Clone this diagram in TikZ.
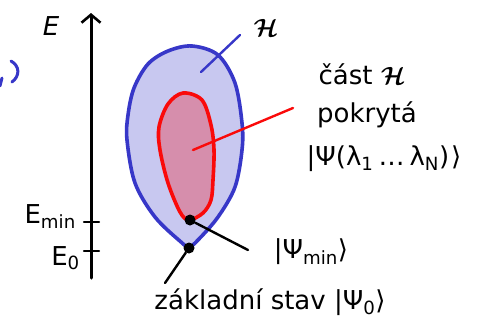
\documentclass[tikz,border=0pt]{standalone}
\usepackage{fontspec}
\setmainfont{DejaVu Sans}
\usetikzlibrary{arrows.meta}
\definecolor{hblue}{RGB}{55,55,200}
\definecolor{hbluefill}{RGB}{200,200,240}
\definecolor{hred}{RGB}{250,10,10}
\definecolor{hredfill}{RGB}{214,142,172}
\newcommand{\hilb}{{\boldmath$\mathcal{H}$}}
\tikzset{
  lbl/.style={font=\fontsize{26}{30}\selectfont, inner sep=1pt},
  pen/.style={line width=3pt, line cap=round, line join=round},
  thinpen/.style={line width=2.4pt, line cap=round, line join=round},
  dot/.style={circle, fill=black, inner sep=0pt, minimum size=11pt},
}
\begin{document}
\begin{tikzpicture}[x=1pt,y=-1pt]
\useasboundingbox (0,0) rectangle (486,327);
% fragment at left edge
\draw[pen, hblue] (11,61) .. controls (20,66) and (20,76) .. (12,82);
\draw[pen, hblue] (2,78) -- (0,86);
% axis
\coordinate (axb) at (91,278);
\coordinate (axt) at (91,13);
\draw[pen, -{Straight Barb[length=8pt,width=19pt,line width=2.6pt]}] (axb) -- (axt);
\node[lbl, anchor=base] (E) at (51,35) {\textit{E}};
\coordinate (t1) at (84,222); \coordinate (t1b) at (99,222);
\coordinate (t0) at (84,251); \coordinate (t0b) at (99,251);
\draw[thinpen] (t1) -- (t1b);
\draw[thinpen] (t0) -- (t0b);
\node[lbl, anchor=base east] (Emin) at (77,223) {E\textsubscript{min}};
\node[lbl, anchor=base east] (E0) at (81,265) {E\textsubscript{0}};
% outer blob
\draw[pen, line width=3.6pt, hblue, fill=hbluefill] plot[smooth cycle, tension=0.55] coordinates {
  (192,46) (218,55) (235,83) (242,123) (242,150) (235,187) (218,217) (198,240) (189,247)
  (181,242) (155,217) (135,183) (127,140) (128,115) (134,88) (148,64) (168,51)};
% inner blob
\draw[pen, line width=3.6pt, hred, fill=hredfill] plot[smooth cycle, tension=0.55] coordinates {
  (183,93) (202,100) (211,125) (214,150) (213,180) (211,200) (203,213) (189,220)
  (180,212) (168,183) (160,150) (159,127) (168,104)};
% H label
\coordinate (hb) at (201,72);
\node[lbl] (H) at (266,28) {\hilb};
\draw[thinpen, hblue] (hb) -- (240,35);
% red label
\coordinate (rb) at (193,150);
\coordinate (rt) at (293,108);
\draw[thinpen, hred] (rb) -- (rt);
\node[lbl] (cast) at (362,74) {část \hilb};
\node[lbl] (pokr) at (367,115) {pokrytá};
\node[lbl] (psil) at (384,159) {|Ψ(λ\textsubscript{1}\hspace{5pt}…\hspace{5pt}λ\textsubscript{N})\hspace{2pt}⟩};
% dots
\node[dot] (dmin) at (190,220) {};
\node[dot] (d0) at (189,248) {};
\coordinate (lmin) at (248,250);
\coordinate (l0) at (165,283);
\draw[thinpen] (dmin) -- (lmin);
\draw[thinpen] (d0) -- (l0);
\node[lbl] (psimin) at (311,252) {|Ψ\textsubscript{min}⟩};
\node[lbl] (zakl) at (270,302) {základní stav |Ψ\textsubscript{0}⟩};
\end{tikzpicture}
\end{document}
